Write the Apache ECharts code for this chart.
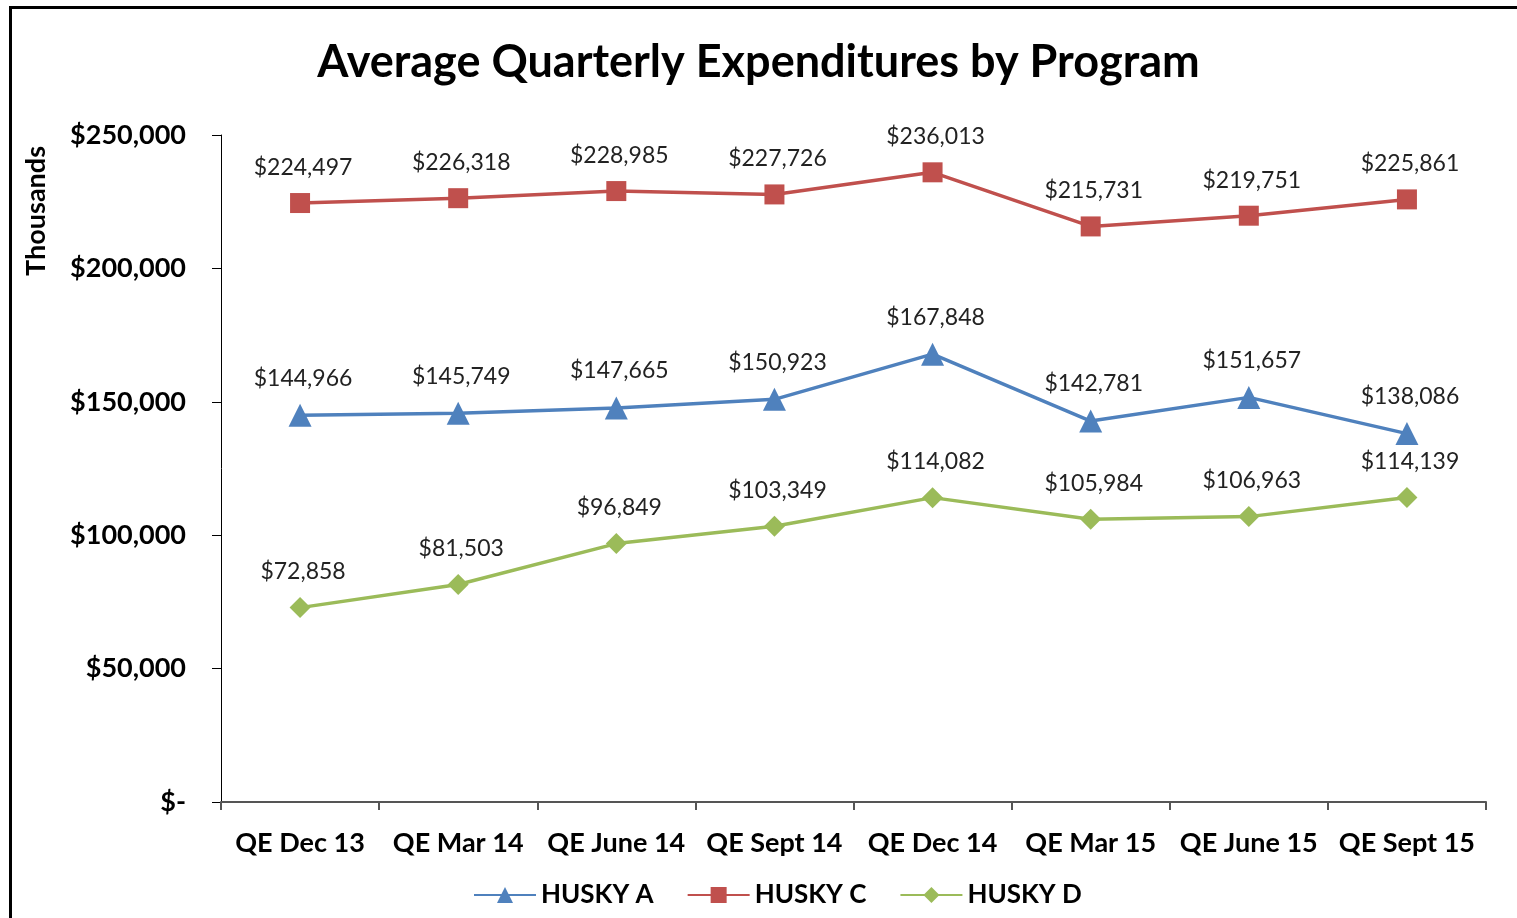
<!DOCTYPE html>
<html>
  <head>
    <meta charset="utf-8">
    <title>Average Quarterly Expenditures by Program</title>
    <script src="https://cdn.jsdelivr.net/npm/echarts@6/dist/echarts.min.js"></script>
    <style>
      html, body { margin: 0; padding: 0; background: #fff; }
      #frame {
        position: absolute; left: 9px; top: 6px; width: 1600px; height: 1000px;
        border-top: 3px solid #000; border-left: 3px solid #000;
      }
      #chart { position: absolute; left: 0; top: 0; width: 1517px; height: 918px; }
    </style>
  </head>
  <body>
    <div id="frame"></div>
    <div id="chart"></div>
    <script>
      // quarters and values in thousands
      var quarters = ['QE Dec 13', 'QE Mar 14', 'QE June 14', 'QE Sept 14', 'QE Dec 14', 'QE Mar 15', 'QE June 15', 'QE Sept 15'];
      var huskyA = [144966, 145749, 147665, 150923, 167848, 142781, 151657, 138086];
      var huskyC = [224497, 226318, 228985, 227726, 236013, 215731, 219751, 225861];
      var huskyD = [72858, 81503, 96849, 103349, 114082, 105984, 106963, 114139];

      var font = 'Lato, "Open Sans", sans-serif';
      function money(v) {
        return v === 0 ? '$-' : '$' + v.toLocaleString('en-US');
      }

      function line(name, data, color, symbol, size) {
        return {
          name: name,
          type: 'line',
          data: data,
          symbol: symbol,
          symbolSize: size,
          lineStyle: { color: color, width: 3.5 },
          itemStyle: { color: color },
          label: {
            show: true,
            position: 'top',
            distance: 14,
            offset: [3, 0],
            color: '#222',
            fontFamily: font,
            fontSize: 23,
            formatter: function (p) { return money(p.value); }
          },
          z: 3
        };
      }

      var chart = echarts.init(document.getElementById('chart'));
      chart.setOption({
        animation: false,
        title: {
          text: 'Average Quarterly Expenditures by Program',
          left: 'center',
          top: 35,
          textStyle: { fontFamily: font, fontSize: 45, fontWeight: 'bold', color: '#000' }
        },
        grid: { left: 221, right: 31, top: 135, bottom: 116 },
        graphic: [{
          type: 'text',
          left: 23,
          top: 146,
          rotation: Math.PI / 2,
          style: { text: 'Thousands', fontFamily: font, fontSize: 27, fontWeight: 'bold', fill: '#000' }
        }],
        legend: {
          bottom: 5,
          left: 468,
          itemWidth: 62,
          itemHeight: 20,
          itemGap: 33,
          textStyle: { fontFamily: font, fontSize: 26, fontWeight: 'bold', color: '#000' },
          data: ['HUSKY A', 'HUSKY C', 'HUSKY D']
        },
        xAxis: {
          type: 'category',
          data: quarters,
          boundaryGap: true,
          axisLine: { lineStyle: { color: '#555', width: 2 } },
          axisTick: { show: true, interval: 0, length: 8, lineStyle: { color: '#555', width: 2 } },
          axisLabel: { interval: 0, margin: 28, fontFamily: font, fontSize: 27, fontWeight: 'bold', color: '#000' },
          splitLine: { show: false }
        },
        yAxis: {
          type: 'value',
          min: 0,
          max: 250000,
          interval: 50000,
          axisLine: { show: true, lineStyle: { color: '#000', width: 1 } },
          axisTick: { show: true, length: 9, lineStyle: { color: '#000' } },
          axisLabel: { margin: 35, fontFamily: font, fontSize: 27, fontWeight: 'bold', color: '#000', formatter: money },
          splitLine: { show: false }
        },
        series: [
          line('HUSKY A', huskyA, '#4F81BD', 'triangle', 23),
          line('HUSKY C', huskyC, '#C0504D', 'rect', 20),
          line('HUSKY D', huskyD, '#9BBB59', 'diamond', 21)
        ]
      });
    </script>
  </body>
</html>
